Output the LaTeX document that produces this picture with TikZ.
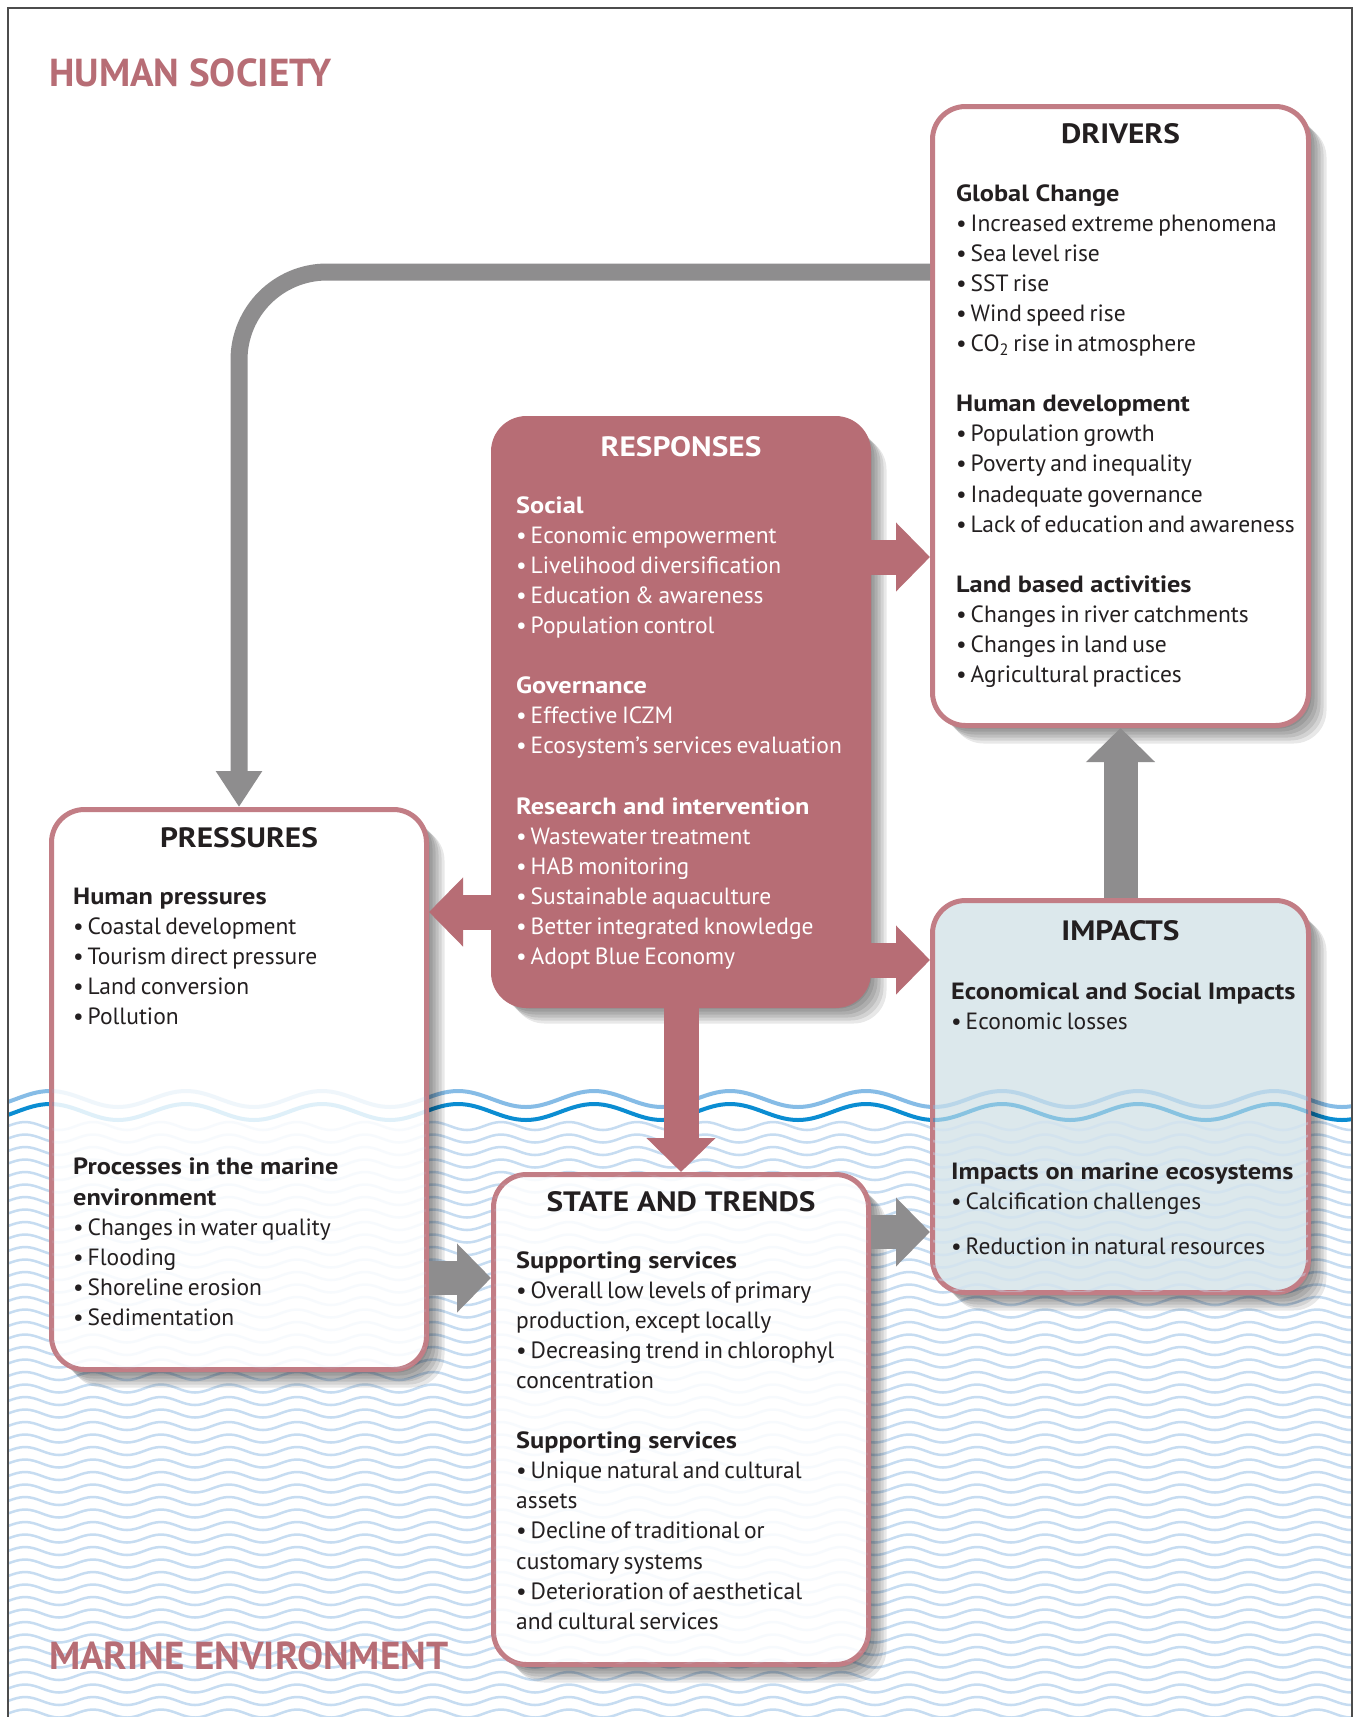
\documentclass[tikz,border=0pt]{standalone}
\usepackage{fontspec}
\setmainfont{PT Sans}
\newfontfamily\headfont[FakeStretch=1.12]{PT Sans}
\usetikzlibrary{arrows.meta}
\definecolor{rosebox}{HTML}{B76D75}
\definecolor{roseline}{HTML}{C27D85}
\definecolor{arrowgray}{HTML}{8E8D8E}
\definecolor{impactfill}{HTML}{DCE8EC}
\definecolor{inkdark}{HTML}{231F20}
\definecolor{seablue}{HTML}{C6DCF1}
\definecolor{surfblue}{HTML}{0B8DD2}
\definecolor{surfpale}{HTML}{86BCE6}
\newcommand{\hd}[1]{{\spaceskip=0pt\relax\headfont\bfseries #1}}
\newcommand{\tightwords}{\spaceskip=4.4pt plus 2pt minus 1pt\relax}
\tikzset{
  softshadow/.style={
    preaction={fill=black, fill opacity=.09, transform canvas={shift={(3pt,-3pt)}}},
    preaction={fill=black, fill opacity=.09, transform canvas={shift={(6pt,-6pt)}}},
    preaction={fill=black, fill opacity=.09, transform canvas={shift={(9pt,-9pt)}}},
    preaction={fill=black, fill opacity=.09, transform canvas={shift={(12pt,-12pt)}}},
    preaction={fill=black, fill opacity=.09, transform canvas={shift={(15pt,-15pt)}}},
    preaction={fill=black, fill opacity=.09, transform canvas={shift={(18pt,-18pt)}}}},
  box/.style={rectangle, rounded corners=33pt, line width=5pt, draw=roseline, fill=white, softshadow},
  boxtitle/.style={inner sep=0pt, anchor=base, text=inkdark, font=\headfont\bfseries\fontsize{28}{34}\selectfont},
  boxtext/.style={inner sep=0pt, anchor=base west, text width=370pt, align=left, text=inkdark,
    font=\fontsize{23.5}{30.1}\selectfont, execute at begin node=\tightwords},
  realm/.style={inner sep=0pt, anchor=base west, text=rosebox, font=\fontsize{39}{44}\selectfont\bfseries},
  pinkarrow/.style={line width=35pt, draw=rosebox, -{Triangle[width=67pt,length=34pt]}},
  grayarrow/.style={line width=34pt, draw=arrowgray, -{Triangle[width=67pt,length=34pt]}},
  loopline/.style={line width=17pt, draw=arrowgray, rounded corners=88pt, -{Triangle[width=44pt,length=36pt]}},
  seawave/.style={draw=seablue, line width=2.5pt},
  surfpaleline/.style={draw=surfpale, line width=4pt},
  surfline/.style={draw=surfblue, line width=4pt}
}
% sea background: wave lines below the surface
\newcommand{\seawaves}{%
  \foreach \k in {0,...,48}
    \draw[seawave] (-60,{1126+12.5*\k}) \foreach \i in {1,...,22} {sin ++(17,-4) cos ++(17,4) sin ++(17,4) cos ++(17,-4)};
  \draw[surfpaleline] (-120,1099) \foreach \i in {1,...,11} {sin ++(34,-8) cos ++(34,8) sin ++(34,8) cos ++(34,-8)};
  \draw[surfline] (-120,1112) \foreach \i in {1,...,11} {sin ++(34,-8) cos ++(34,8) sin ++(34,8) cos ++(34,-8)};
}
\begin{document}
\begin{tikzpicture}[x=1pt,y=-1pt]
\useasboundingbox[fill=white] (0,0) rectangle (1358,1717);
\begin{scope}
  \clip (9,0) rectangle (1351,1717);
  \seawaves
\end{scope}
\draw[line width=1.5pt, draw=black!70] (8,8) rectangle (1352,1760);
\node[realm] (human) at (49,86) {HUMAN SOCIETY};
\node[realm] (marine) at (49,1669) {MARINE ENVIRONMENT};
% boxes
\node[box, minimum width=376pt, minimum height=619pt] (drivers) at (1120.5,416) {};
\node[box, draw=rosebox, fill=rosebox, minimum width=375pt, minimum height=587pt] (responses) at (681,712) {};
\node[box, minimum width=375pt, minimum height=560pt] (pressures) at (239,1089.5) {};
\node[box, fill=impactfill, minimum width=376pt, minimum height=392pt] (impacts) at (1120.5,1096.5) {};
\node[box, minimum width=375pt, minimum height=490pt] (state) at (681,1419.5) {};
% faint sea seen through the boxes
\foreach \b/\o in {pressures/.13, state/.13, impacts/.4} {
  \begin{scope}
    \clip[rounded corners=30pt] ([shift={(3,3)}]\b.north west) rectangle ([shift={(-3,-3)}]\b.south east);
    \begin{scope}[opacity=\o]
      \seawaves
    \end{scope}
  \end{scope}
}
% connectors
\draw[loopline] (drivers.west |- 0,272) -| (pressures.north);
\draw[pinkarrow] (responses.east |- 0,557) -- (drivers.west |- 0,557);
\draw[pinkarrow] (responses.east |- 0,960) -- (impacts.west |- 0,960);
\draw[pinkarrow] (responses.west |- 0,912) -- (pressures.east |- 0,912);
\draw[pinkarrow] (responses.south) -- (state.north);
\draw[grayarrow] (impacts.north) -- (drivers.south);
\draw[grayarrow] (pressures.east |- 0,1278) -- (state.west |- 0,1278);
\draw[grayarrow] (state.east |- 0,1232) -- (impacts.west |- 0,1232);
% texts
\node[boxtitle] (driverstitle) at (1120.5,143) {DRIVERS};
\node[boxtext] (driverstext) at (956,201) {\hd{Global Change}\\
•\,Increased extreme phenomena\\
•\,Sea level rise\\
•\,SST rise\\
•\,Wind speed rise\\
•\,CO\textsubscript{2} rise in atmosphere\\[\baselineskip]
\hd{Human development}\\
•\,Population growth\\
•\,Poverty and inequality\\
•\,Inadequate governance\\
•\,Lack of education and awareness\\[\baselineskip]
\hd{Land based activities}\\
•\,Changes in river catchments\\
•\,Changes in land use\\
•\,Agricultural practices};
\node[boxtitle, text=white] (responsestitle) at (681,456) {RESPONSES};
\node[boxtext, text=white] (responsestext) at (516,513) {\hd{Social}\\
•\,Economic empowerment\\
•\,Livelihood diversification\\
•\,Education \& awareness\\
•\,Population control\\[\baselineskip]
\hd{Governance}\\
•\,Effective ICZM\\
•\,Ecosystem’s services evaluation\\[\baselineskip]
\hd{Research and intervention}\\
•\,Wastewater treatment\\
•\,HAB monitoring\\
•\,Sustainable aquaculture\\
•\,Better integrated knowledge\\
•\,Adopt Blue Economy};
\node[boxtitle] (pressurestitle) at (239,847) {PRESSURES};
\node[boxtext] (pressurestext) at (73,904) {\hd{Human pressures}\\
•\,Coastal development\\
•\,Tourism direct pressure\\
•\,Land conversion\\
•\,Pollution\\[4\baselineskip]
\hd{Processes in the marine}\\
\hd{environment}\\
•\,Changes in water quality\\
•\,Flooding\\
•\,Shoreline erosion\\
•\,Sedimentation};
\node[boxtitle] (impactstitle) at (1120.5,940) {IMPACTS};
\node[boxtext] (impactstext) at (951,999) {\hd{Economical and Social Impacts}\\
•\,Economic losses\\[4\baselineskip]
\hd{Impacts on marine ecosystems}\\
•\,Calcification challenges\\[0.5\baselineskip]
•\,Reduction in natural resources};
\node[boxtitle] (statetitle) at (681,1211) {STATE AND TRENDS};
\node[boxtext] (statetext) at (516,1268) {\hd{Supporting services}\\
•\,Overall low levels of primary\\
production, except locally\\
•\,Decreasing trend in chlorophyl\\
concentration\\[\baselineskip]
\hd{Supporting services}\\
•\,Unique natural and cultural\\
assets\\
•\,Decline of traditional or\\
customary systems\\
•\,Deterioration of aesthetical\\
and cultural services};
\end{tikzpicture}
\end{document}
